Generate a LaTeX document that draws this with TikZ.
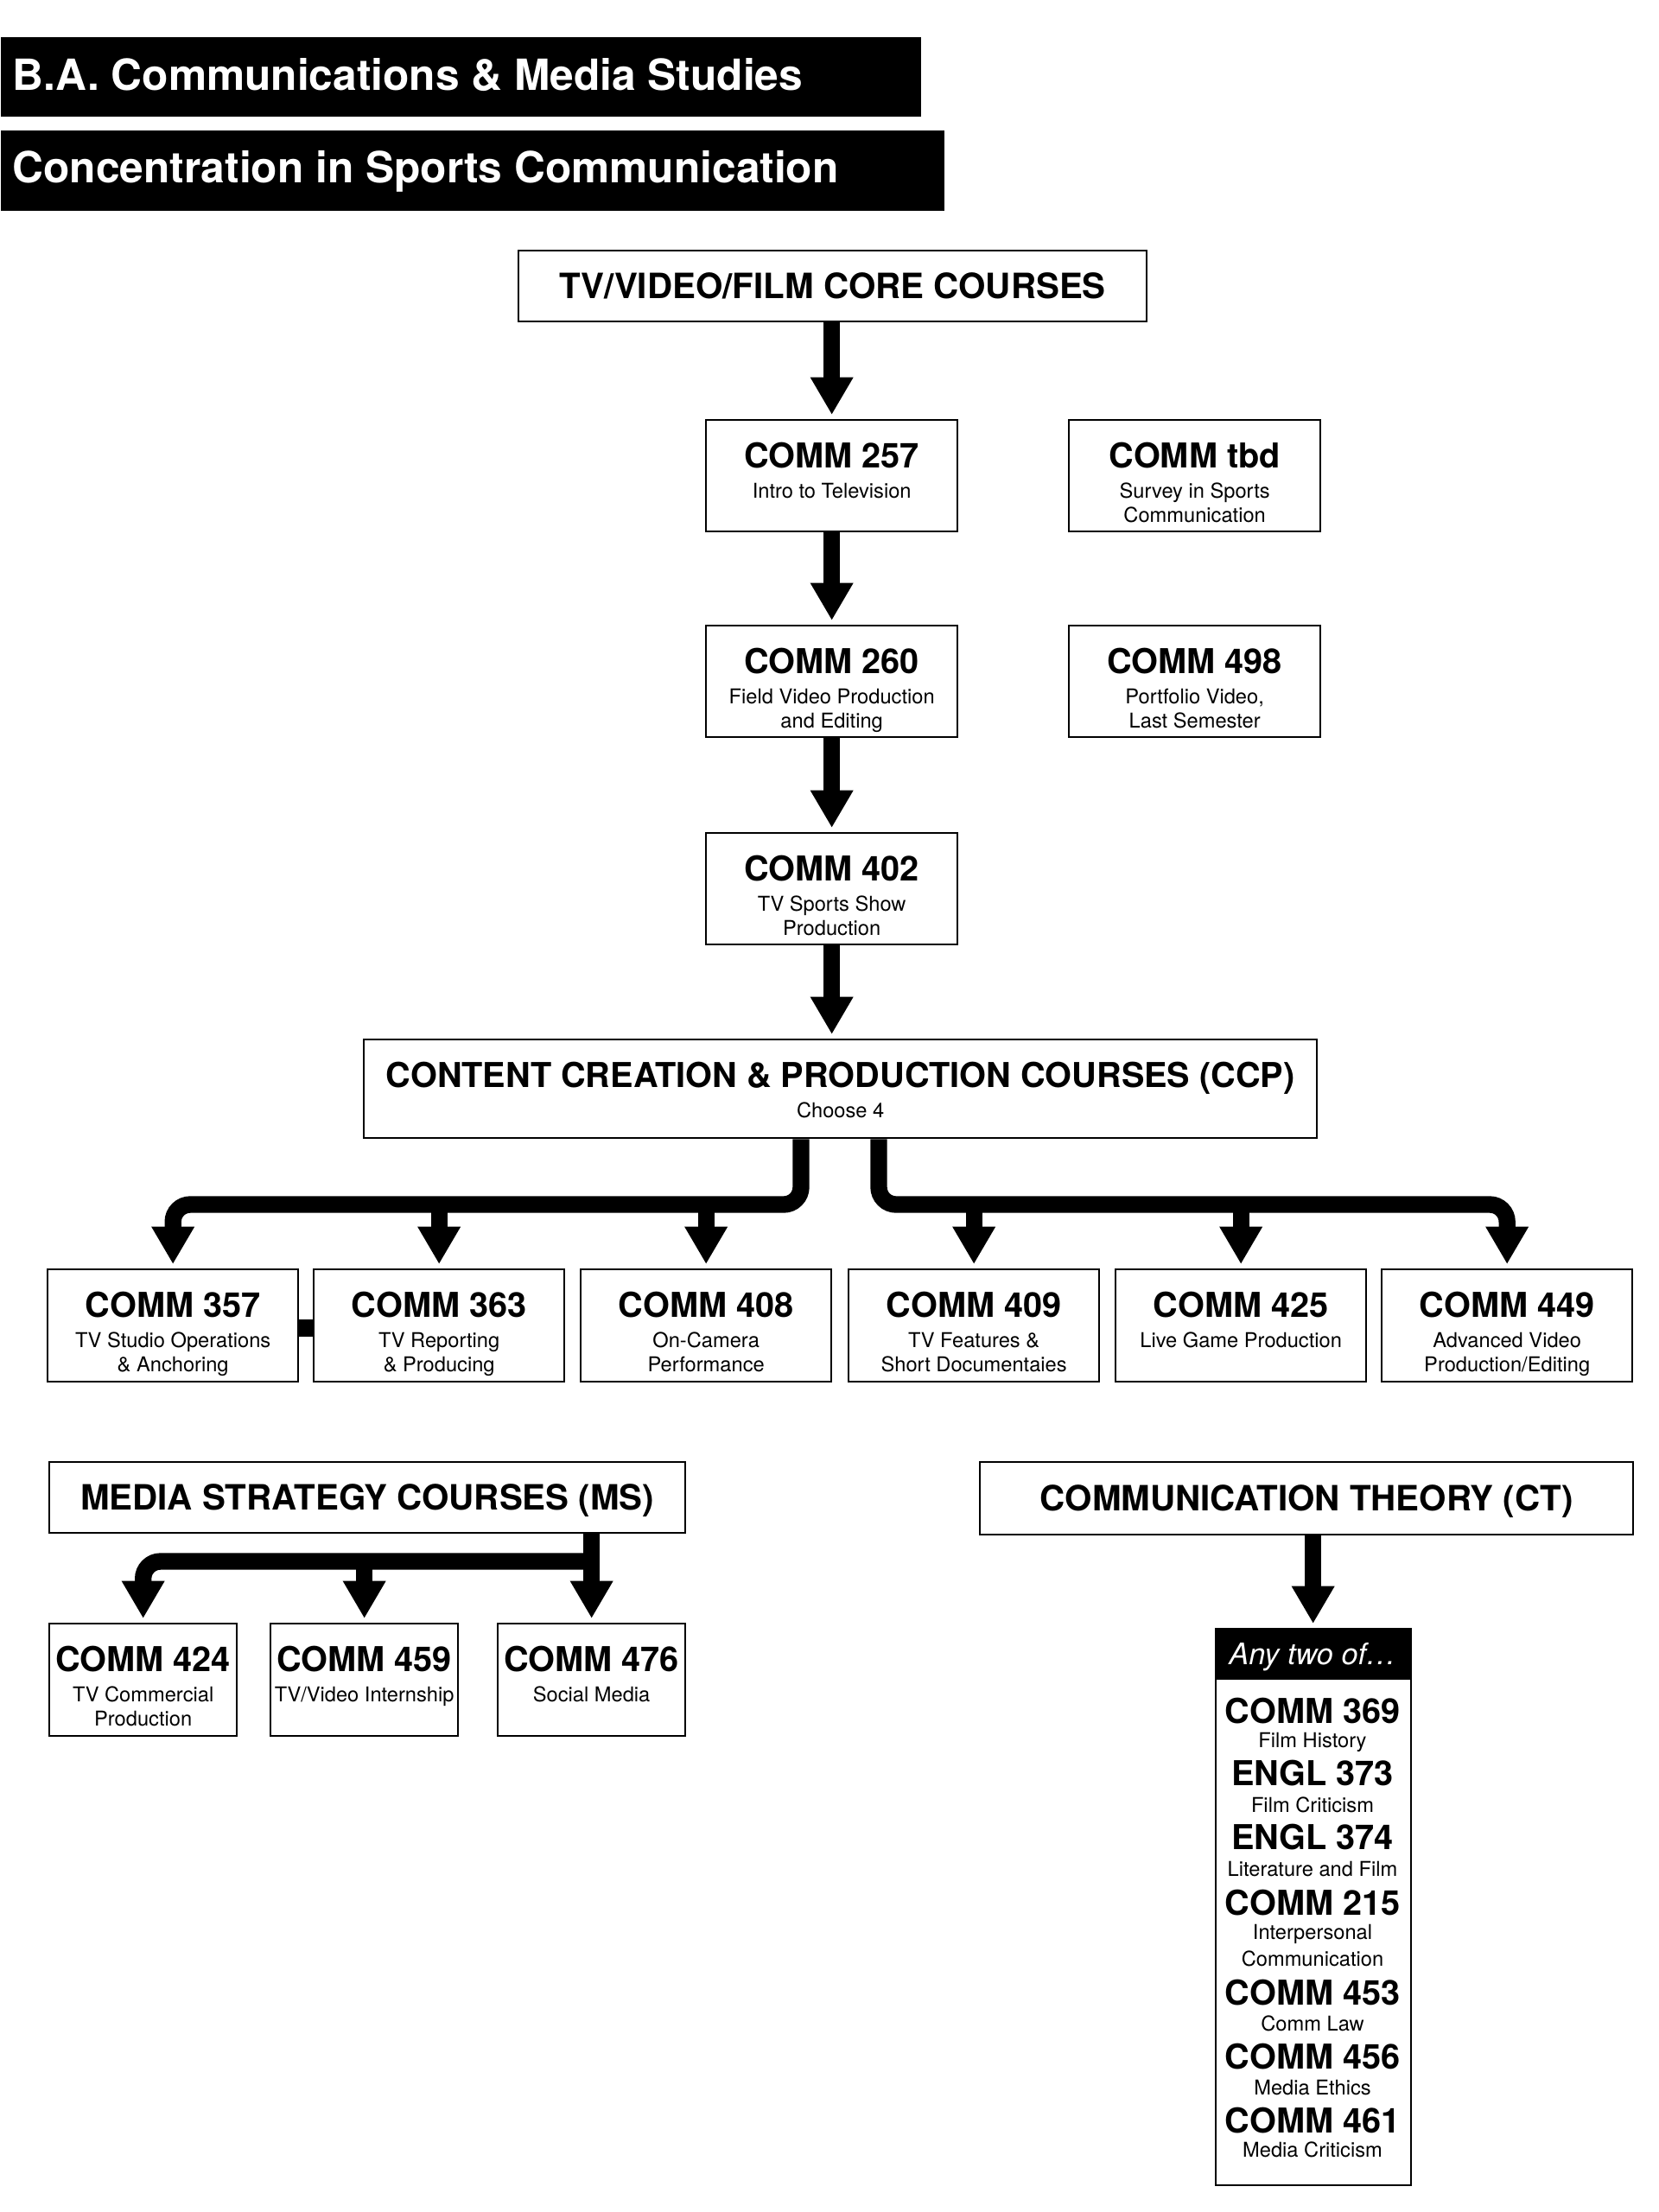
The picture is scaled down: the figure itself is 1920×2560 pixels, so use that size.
\documentclass[tikz,border=0pt]{standalone}
\usepackage{fontspec}
\setmainfont{TeX Gyre Heros}
\usetikzlibrary{arrows.meta,calc}
\tikzset{
  box/.style={draw=black, line width=0.7pt, inner sep=0pt, anchor=north west},
  cbig/.style={box, minimum width=87.3pt, minimum height=38.7pt},
  crow/.style={box, minimum width=87pt, minimum height=39pt},
  csmall/.style={box, minimum width=65.1pt, minimum height=39pt},
  hdrtxt/.style={font=\bfseries\fontsize{12.1}{14}\selectfont, text height=8.6pt, text depth=0pt},
  ttl/.style={font=\bfseries\fontsize{11.9}{14}\selectfont, inner sep=0pt, anchor=base},
  sub/.style={font=\fontsize{7.1}{8.5}\selectfont, inner sep=0pt, anchor=base},
  arr/.style={line width=5.8pt, -{Triangle[width=14pt,length=13pt]}, shorten >=1.5pt},
  barline/.style={line width=5.8pt, rounded corners=6pt},
  banner/.style={fill=black, inner sep=0pt, anchor=north west},
  bantxt/.style={text=white, font=\bfseries\fontsize{14.9}{18}\selectfont, inner sep=0pt, anchor=base west},
}
\newcommand\crsA[3]{%
  \node[ttl] (#1-t) at ($(#1.north)+(0,56)$) {#2};
  \node[sub] (#1-a) at ($(#1.north)+(0,91)$) {#3};}
\newcommand\crsB[4]{%
  \crsA{#1}{#2}{#3}
  \node[sub] (#1-b) at ($(#1.north)+(0,119)$) {#4};}
\begin{document}
\begin{tikzpicture}[x=0.3pt,y=-0.3pt]
\fill[white] (0,0) rectangle (1920,2560);
\useasboundingbox (0,0) rectangle (1920,2560);

% banners
\node[banner, minimum width=319.5pt, minimum height=27.6pt] (bar1) at (0,42) {};
\node[bantxt] (bar1t) at (14,104) {B.A. Communications \& Media Studies};
\node[banner, minimum width=327.6pt, minimum height=27.9pt] (bar2) at (0,150) {};
\node[bantxt] (bar2t) at (14,211) {Concentration in Sports Communication};

% core
\node[box, minimum width=218.1pt, minimum height=24.6pt, hdrtxt] (core) at (599,289) {TV/VIDEO/FILM CORE COURSES};
\node[cbig] (c257) at (816,485) {};
\crsA{c257}{COMM 257}{Intro to Television}
\node[cbig] (ctbd) at (1236,485) {};
\crsB{ctbd}{COMM tbd}{Survey in Sports}{Communication}
\node[cbig] (c260) at (816,723) {};
\crsB{c260}{COMM 260}{Field Video Production}{and Editing}
\node[cbig] (c498) at (1236,723) {};
\crsB{c498}{COMM 498}{Portfolio Video,}{Last Semester}
\node[cbig] (c402) at (816,963) {};
\crsB{c402}{COMM 402}{TV Sports Show}{Production}

% CCP
\node[box, minimum width=330.9pt, minimum height=34.2pt] (ccp) at (420,1202) {};
\crsA{ccp}{CONTENT CREATION \& PRODUCTION COURSES (CCP)}{Choose 4}

\node[crow] (c357) at (54,1468) {};
\crsB{c357}{COMM 357}{TV Studio Operations}{\& Anchoring}
\node[crow] (c363) at (362,1468) {};
\crsB{c363}{COMM 363}{TV Reporting}{\& Producing}
\node[crow] (c408) at (671,1468) {};
\crsB{c408}{COMM 408}{On-Camera}{Performance}
\node[crow] (c409) at (981,1468) {};
\crsB{c409}{COMM 409}{TV Features \&}{Short Documentaies}
\node[crow] (c425) at (1290,1468) {};
\crsA{c425}{COMM 425}{Live Game Production}
\node[crow] (c449) at (1598,1468) {};
\crsB{c449}{COMM 449}{Advanced Video}{Production/Editing}
\fill[black] (344,1527) rectangle (362,1547);

% MS
\node[box, minimum width=220.8pt, minimum height=24.6pt, hdrtxt] (ms) at (56,1691) {MEDIA STRATEGY COURSES (MS)};
\node[csmall] (c424) at (56,1878) {};
\crsB{c424}{COMM 424}{TV Commercial}{Production}
\node[csmall] (c459) at (312,1878) {};
\crsA{c459}{COMM 459}{TV/Video Internship}
\node[csmall] (c476) at (575,1878) {};
\crsA{c476}{COMM 476}{Social Media}

% CT
\node[box, minimum width=226.8pt, minimum height=25.2pt, hdrtxt] (ct) at (1133,1691) {COMMUNICATION THEORY (CT)};
\node[box, minimum width=67.8pt, minimum height=193.2pt] (any) at (1406,1884) {};
\node[banner, minimum width=67.8pt, minimum height=17.7pt] (anyhdr) at (1406,1884) {};
\node[text=white, font=\itshape\fontsize{10.3}{12}\selectfont, inner sep=0pt, anchor=base] (anyt) at (1519,1926) {Any two of…};
\node[ttl] (l1) at (1519,1994) {COMM 369};
\node[sub] (l1a) at (1519,2022) {Film History};
\node[ttl] (l2) at (1519,2066) {ENGL 373};
\node[sub] (l2a) at (1519,2097) {Film Criticism};
\node[ttl] (l3) at (1519,2140) {ENGL 374};
\node[sub] (l3a) at (1519,2171) {Literature and Film};
\node[ttl] (l4) at (1519,2216) {COMM 215};
\node[sub] (l4a) at (1519,2244) {Interpersonal};
\node[sub] (l4b) at (1519,2275) {Communication};
\node[ttl] (l5) at (1519,2320) {COMM 453};
\node[sub] (l5a) at (1519,2350) {Comm Law};
\node[ttl] (l6) at (1519,2394) {COMM 456};
\node[sub] (l6a) at (1519,2424) {Media Ethics};
\node[ttl] (l7) at (1519,2468) {COMM 461};
\node[sub] (l7a) at (1519,2496) {Media Criticism};

% connectors
\draw[arr] (c257.north |- core.south) -- (c257.north);
\draw[arr] (c257.south) -- (c260.north);
\draw[arr] (c260.south) -- (c402.north);
\draw[arr] (c402.south) -- (c402.south |- ccp.north);

\coordinate (lb) at (927,1394);
\coordinate (rb) at (1017,1394);
\draw[barline, arr] (ccp.south -| lb) -- (lb) -- (lb -| c357.north) -- (c357.north);
\draw[barline, arr] (ccp.south -| rb) -- (rb) -- (rb -| c449.north) -- (c449.north);
\draw[arr] (c363.north |- lb) -- (c363.north);
\draw[arr] (c408.north |- lb) -- (c408.north);
\draw[arr] (c409.north |- rb) -- (c409.north);
\draw[arr] (c425.north |- rb) -- (c425.north);

\coordinate (msb) at (685,1807);
\draw[arr] (ms.south -| c476.north) -- (c476.north);
\draw[barline, arr] (c476.north |- msb) -- (msb -| c424.north) -- (c424.north);
\draw[arr] (c459.north |- msb) -- (c459.north);

\draw[arr] (anyhdr.north |- ct.south) -- (anyhdr.north);
\end{tikzpicture}
\end{document}
